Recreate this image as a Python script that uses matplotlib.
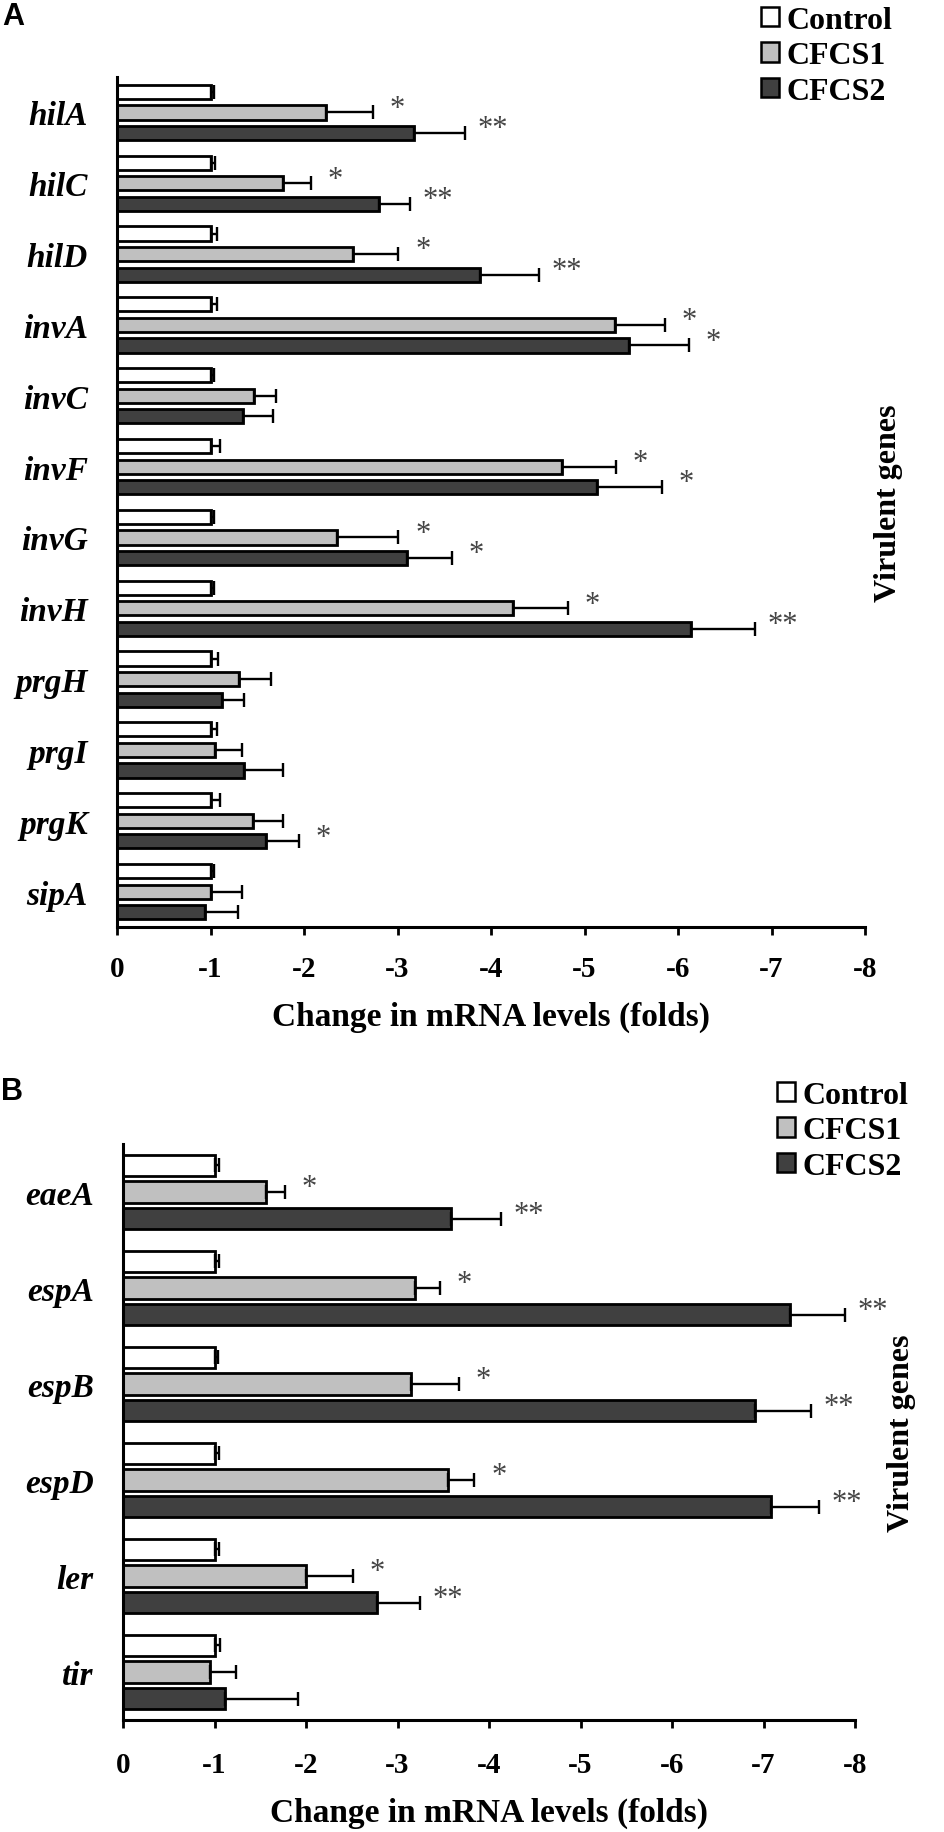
import matplotlib
matplotlib.use('Agg')
import matplotlib.pyplot as plt
import numpy as np
from matplotlib.patches import Patch
from matplotlib.font_manager import FontProperties

# ---------------- data ----------------
series_names = ['Control', 'CFCS1', 'CFCS2']
series_colors = ['#ffffff', '#c0c0c0', '#404040']

genes_a = ['hilA', 'hilC', 'hilD', 'invA', 'invC', 'invF', 'invG', 'invH',
           'prgH', 'prgI', 'prgK', 'sipA']
ctrl_a = [1.0, 1.0, 1.0, 1.0, 1.0, 1.0, 1.0, 1.0, 1.0, 1.0, 1.0, 1.0]
ctrl_a_err = [0.04, 0.045, 0.07, 0.07, 0.04, 0.10, 0.04, 0.04, 0.08, 0.07, 0.10, 0.04]
cfcs1_a = [2.24, 1.78, 2.52, 5.33, 1.46, 4.76, 2.35, 4.23, 1.31, 1.05, 1.45, 1.00]
cfcs1_a_err = [0.50, 0.29, 0.49, 0.53, 0.24, 0.58, 0.66, 0.59, 0.34, 0.29, 0.33, 0.34]
cfcs2_a = [3.18, 2.80, 3.88, 5.48, 1.35, 5.13, 3.10, 6.14, 1.12, 1.36, 1.59, 0.94]
cfcs2_a_err = [0.54, 0.33, 0.63, 0.64, 0.32, 0.70, 0.48, 0.68, 0.24, 0.42, 0.36, 0.35]
stars_a = [['', '', '', '', '', '', '', '', '', '', '', ''],
           ['*', '*', '*', '*', '', '*', '*', '*', '', '', '', ''],
           ['**', '**', '**', '*', '', '*', '*', '**', '', '', '*', '']]

genes_b = ['eaeA', 'espA', 'espB', 'espD', 'ler', 'tir']
ctrl_b = [1.0, 1.0, 1.0, 1.0, 1.0, 1.0]
ctrl_b_err = [0.05, 0.05, 0.035, 0.045, 0.045, 0.055]
cfcs1_b = [1.56, 3.19, 3.15, 3.55, 2.00, 0.95]
cfcs1_b_err = [0.21, 0.27, 0.52, 0.29, 0.51, 0.28]
cfcs2_b = [3.58, 7.29, 6.91, 7.08, 2.78, 1.12]
cfcs2_b_err = [0.55, 0.60, 0.61, 0.53, 0.47, 0.79]
stars_b = [['', '', '', '', '', ''],
           ['*', '*', '*', '*', '*', ''],
           ['**', '**', '**', '**', '**', '']]

xticks = [0, -1, -2, -3, -4, -5, -6, -7, -8]
xticklabels = ['0', '-1', '-2', '-3', '-4', '-5', '-6', '-7', '-8']

# ---------------- figure ----------------
W, H = 944, 1833
fig = plt.figure(figsize=(W / 100, H / 100), dpi=100)


def rect(l, r, t, b):
    return [l / W, 1 - b / H, (r - l) / W, (b - t) / H]


serif = 'Liberation Serif'


def draw(ax, genes, vals, errs, stars, bar_h, off, vg_x, tick_pad):
    y = np.arange(len(genes))
    for k in range(3):
        v = np.array(vals[k])
        e = np.array(errs[k])
        pos = y + (k - 1) * off
        ax.barh(pos, -v, height=bar_h, color=series_colors[k],
                edgecolor='black', linewidth=2.0, zorder=2)
        ax.errorbar(-v, pos, xerr=[e, np.zeros(len(e))], fmt='none',
                    ecolor='black', elinewidth=1.7, capsize=5, capthick=1.7,
                    zorder=3)
        for i, s in enumerate(stars[k]):
            if s:
                ax.annotate(s, xy=(-(v[i] + e[i]), pos[i]),
                            xytext=(12 if s == '*' else 9, 3),
                            textcoords='offset points', ha='left',
                            va='center', fontsize=22, color='#444444',
                            family=serif)
    ax.set_xlim(0, -8)
    ax.set_ylim(len(genes) - 0.5, -0.5)
    ax.set_xticks(xticks)
    ax.set_xticklabels(xticklabels, family=serif, weight='bold', fontsize=21)
    ax.set_yticks(y)
    ax.set_yticklabels(genes, family=serif, weight='bold', style='italic',
                       fontsize=24)
    ax.tick_params(axis='x', direction='out', length=6, width=2.0,
                   pad=tick_pad)
    ax.tick_params(axis='y', length=0, pad=21)
    for sp in ['top', 'right']:
        ax.spines[sp].set_visible(False)
    for sp in ['left', 'bottom']:
        ax.spines[sp].set_linewidth(2.2)
    ax.set_xlabel('Change in mRNA levels (folds)', family=serif,
                  weight='bold', fontsize=24, labelpad=14)
    ax.text(vg_x, 0.5, 'Virulent genes', transform=ax.transAxes,
            rotation=90, ha='center', va='center', family=serif,
            weight='bold', fontsize=23)


axA = fig.add_axes(rect(117, 865, 78, 928))
draw(axA, genes_a, [ctrl_a, cfcs1_a, cfcs2_a],
     [ctrl_a_err, cfcs1_a_err, cfcs2_a_err], stars_a,
     bar_h=0.2, off=0.29, vg_x=(889 - 117) / (865 - 117), tick_pad=14)

axB = fig.add_axes(rect(123, 855, 1145, 1721))
draw(axB, genes_b, [ctrl_b, cfcs1_b, cfcs2_b],
     [ctrl_b_err, cfcs1_b_err, cfcs2_b_err], stars_b,
     bar_h=0.22, off=0.28, vg_x=(901 - 123) / (855 - 123), tick_pad=16)

handles = [Patch(facecolor=c, edgecolor='black', linewidth=1.8)
           for c in series_colors]
lp = FontProperties(family=serif, weight='bold', size=23)
for (lx, ty) in [(761, 7), (777, 1082)]:
    fig.legend(handles, series_names, loc='upper left',
               bbox_to_anchor=(lx / W, 1 - ty / H),
               bbox_transform=fig.transFigure, frameon=False, prop=lp,
               handlelength=0.56, handleheight=0.56, handletextpad=0.25,
               labelspacing=0.2, borderpad=0, borderaxespad=0)

fig.text(13 / W, 1 - 17 / H, 'A', family='Liberation Sans', weight='bold',
         fontsize=22, ha='center', va='center')
fig.text(12 / W, 1 - 1092 / H, 'B', family='Liberation Sans', weight='bold',
         fontsize=22, ha='center', va='center')

fig.savefig('out.png', dpi=100)
